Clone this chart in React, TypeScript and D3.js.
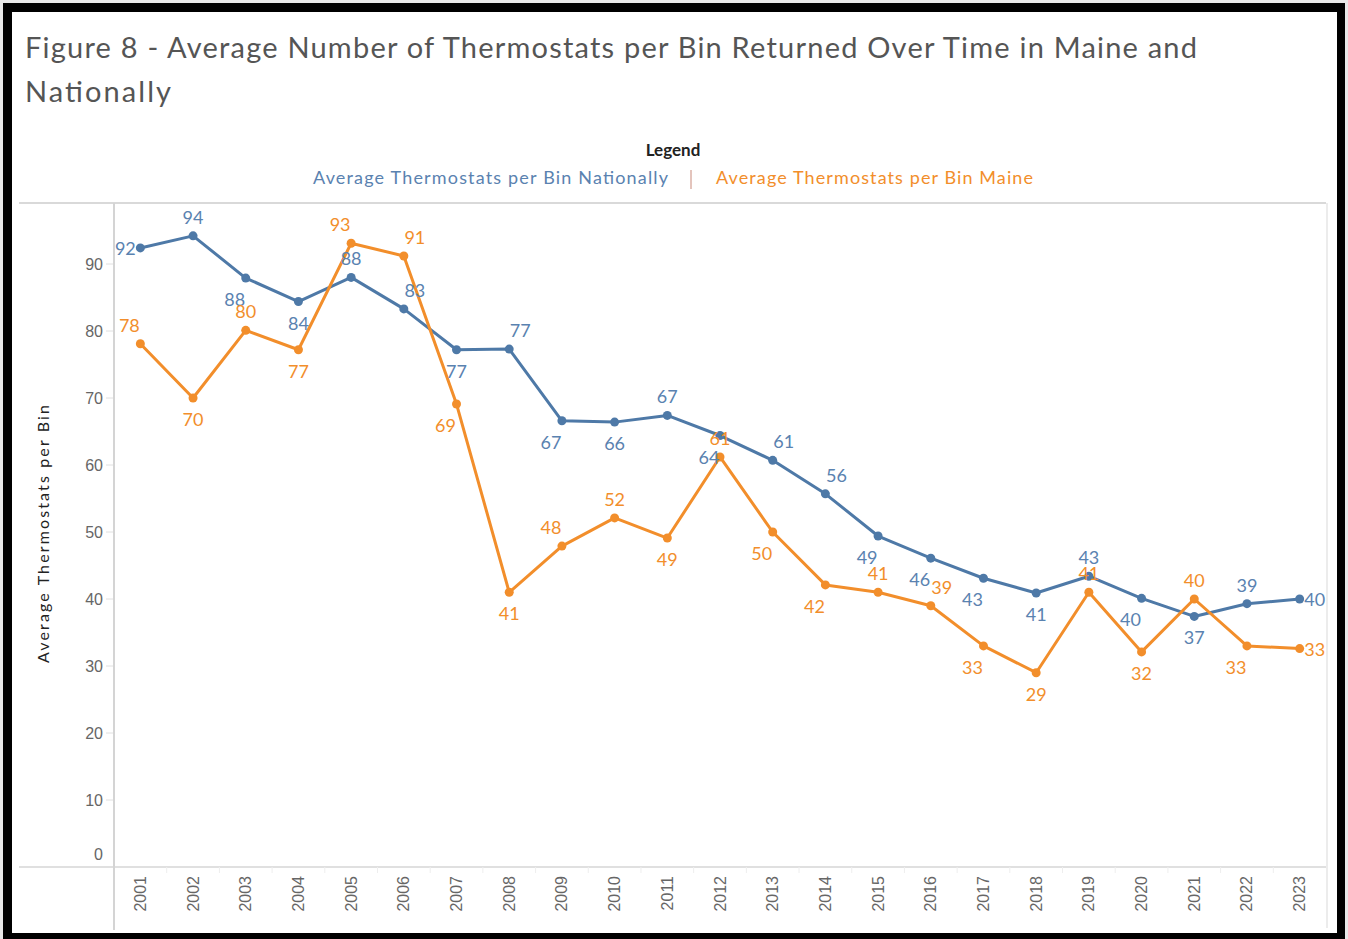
import React from "react";
import * as d3 from "d3";

const years = ["2001","2002","2003","2004","2005","2006","2007","2008","2009","2010","2011","2012","2013","2014","2015","2016","2017","2018","2019","2020","2021","2022","2023"];
const national = [92.4,94.2,87.9,84.4,88,83.3,77.2,77.3,66.6,66.4,67.4,64.4,60.7,55.7,49.4,46.1,43.1,40.9,43.4,40.1,37.4,39.3,40];
const maine = [78.1,70,80.1,77.2,93.1,91.2,69.1,41,47.9,52.1,49.1,61.2,50,42.1,41,39,33,29,41,32.1,40,33,32.6];
const yTicks = [0,10,20,30,40,50,60,70,80,90];
const natPlace = ["l","a","bl","b","a","ar","b","ar","bl","b","a","bl","ar","ar","bl","bl","bl","b","a","bl","b","a","r"];
const mainePlace = ["al","b","a","b","al","ar","bl","b","al","a","b","a","bl","bl","a","ar","bl","b","a","b","a","bl","r"];

const BLUE = "#4e79a7";
const BLUE_T = "#5a82b0";
const ORANGE = "#f28e2b";
const LABEL_FONT = "Lato, 'Open Sans', sans-serif";
const AXIS_FONT = "'Liberation Sans', Arial, sans-serif";

export default function App() {
  const W = 1348, H = 939;
  const left = 114, right = 1326, top = 203, bottom = 867;
  const x = d3.scaleBand<string>().domain(years).range([left, right]);
  const y = d3.scaleLinear().domain([0, 99]).range([bottom, bottom - 99 * 6.7]);
  const cx = (i: number) => (x(years[i]) as number) + x.bandwidth() / 2;
  const line = d3.line<number>().x((_, i) => cx(i)).y((d) => y(d));

  const offset = (p: string) => {
    let dx = 0, dy = 0;
    if (p === "l") dx = -15;
    if (p === "r") dx = 15;
    if (p.startsWith("a")) dy = -19;
    if (p.startsWith("b")) dy = 21;
    if (p.length === 2) dx = p[1] === "l" ? -11 : 11;
    return { dx, dy };
  };

  const series = [
    { vals: national, place: natPlace, color: BLUE, tcolor: BLUE_T },
    { vals: maine, place: mainePlace, color: ORANGE, tcolor: ORANGE },
  ];

  return (
    <svg width={W} height={H} style={{ position: "absolute", left: 0, top: 0, background: "#fff" }}>
      <rect x={0} y={0} width={W} height={H} fill="#e8e8e8" />
      <rect x={3} y={3} width={1342} height={936} fill="#000" />
      <rect x={12} y={12} width={1325} height={921} fill="#fff" />

      <text x={25} y={58} fontFamily={LABEL_FONT} fontSize={29} fill="#555" textLength={1172} lengthAdjust="spacing">
        Figure 8 - Average Number of Thermostats per Bin Returned Over Time in Maine and
      </text>
      <text x={25} y={102} fontFamily={LABEL_FONT} fontSize={29} fill="#555" textLength={146} lengthAdjust="spacing">
        Nationally
      </text>

      <text x={673} y={156} textAnchor="middle" fontFamily={LABEL_FONT} fontSize={17} fontWeight="bold" fill="#222">
        Legend
      </text>
      <text x={313} y={184} fontFamily={LABEL_FONT} fontSize={18} fill={BLUE_T} textLength={355} lengthAdjust="spacing">
        Average Thermostats per Bin Nationally
      </text>
      <line x1={691} x2={691} y1={170} y2={189} stroke="#c98a7a" strokeWidth={1} />
      <text x={716} y={184} fontFamily={LABEL_FONT} fontSize={18} fill={ORANGE} textLength={317} lengthAdjust="spacing">
        Average Thermostats per Bin Maine
      </text>

      {/* frame lines */}
      <line x1={19} x2={right} y1={top} y2={top} stroke="#d9d9d9" strokeWidth={2} />
      <line x1={19} x2={right} y1={bottom} y2={bottom} stroke="#e0e0e0" strokeWidth={2} />
      <line x1={left} x2={left} y1={top} y2={930} stroke="#d4d4d4" strokeWidth={2} />
      <line x1={right + 1} x2={right + 1} y1={top} y2={928} stroke="#e6e6e6" strokeWidth={1.5} />

      {/* y axis */}
      {yTicks.map((t) => (
        <g key={t}>
          <line x1={106} x2={113} y1={y(t)} y2={y(t)} stroke="#e0e0e0" strokeWidth={1} />
          <text x={103} y={t === 0 ? y(t) - 13 : y(t)} textAnchor="end" dominantBaseline="central" fontFamily={AXIS_FONT} fontSize={16} fill="#666">
            {t}
          </text>
        </g>
      ))}
      <text transform={`translate(49,534) rotate(-90)`} textAnchor="middle" fontFamily={LABEL_FONT} fontSize={16} fill="#222" textLength={258} lengthAdjust="spacing">
        Average Thermostats per Bin
      </text>

      {/* x axis */}
      {years.map((yr, i) => (
        <g key={yr}>
          {i > 0 && <line x1={x(yr) as number} x2={x(yr) as number} y1={bottom} y2={bottom + 6} stroke="#eee" strokeWidth={1} />}
          <text transform={`translate(${cx(i)},876) rotate(-90)`} textAnchor="end" dominantBaseline="central" fontFamily={AXIS_FONT} fontSize={16} fill="#666">
            {yr}
          </text>
        </g>
      ))}

      {/* lines */}
      {series.map((s, si) => (
        <g key={si}>
          <path d={line(s.vals) as string} fill="none" stroke={s.color} strokeWidth={3} strokeLinejoin="round" />
          {s.vals.map((v, i) => (
            <circle key={i} cx={cx(i)} cy={y(v)} r={4.5} fill={s.color} />
          ))}
        </g>
      ))}
      {series.map((s, si) => (
        <g key={"l" + si}>
          {s.vals.map((v, i) => {
            const { dx, dy } = offset(s.place[i]);
            return (
              <text key={i} x={cx(i) + dx} y={y(v) + dy} textAnchor="middle" dominantBaseline="central" fontFamily={LABEL_FONT} fontSize={18} fill={s.tcolor}>
                {Math.round(v)}
              </text>
            );
          })}
        </g>
      ))}
    </svg>
  );
}
